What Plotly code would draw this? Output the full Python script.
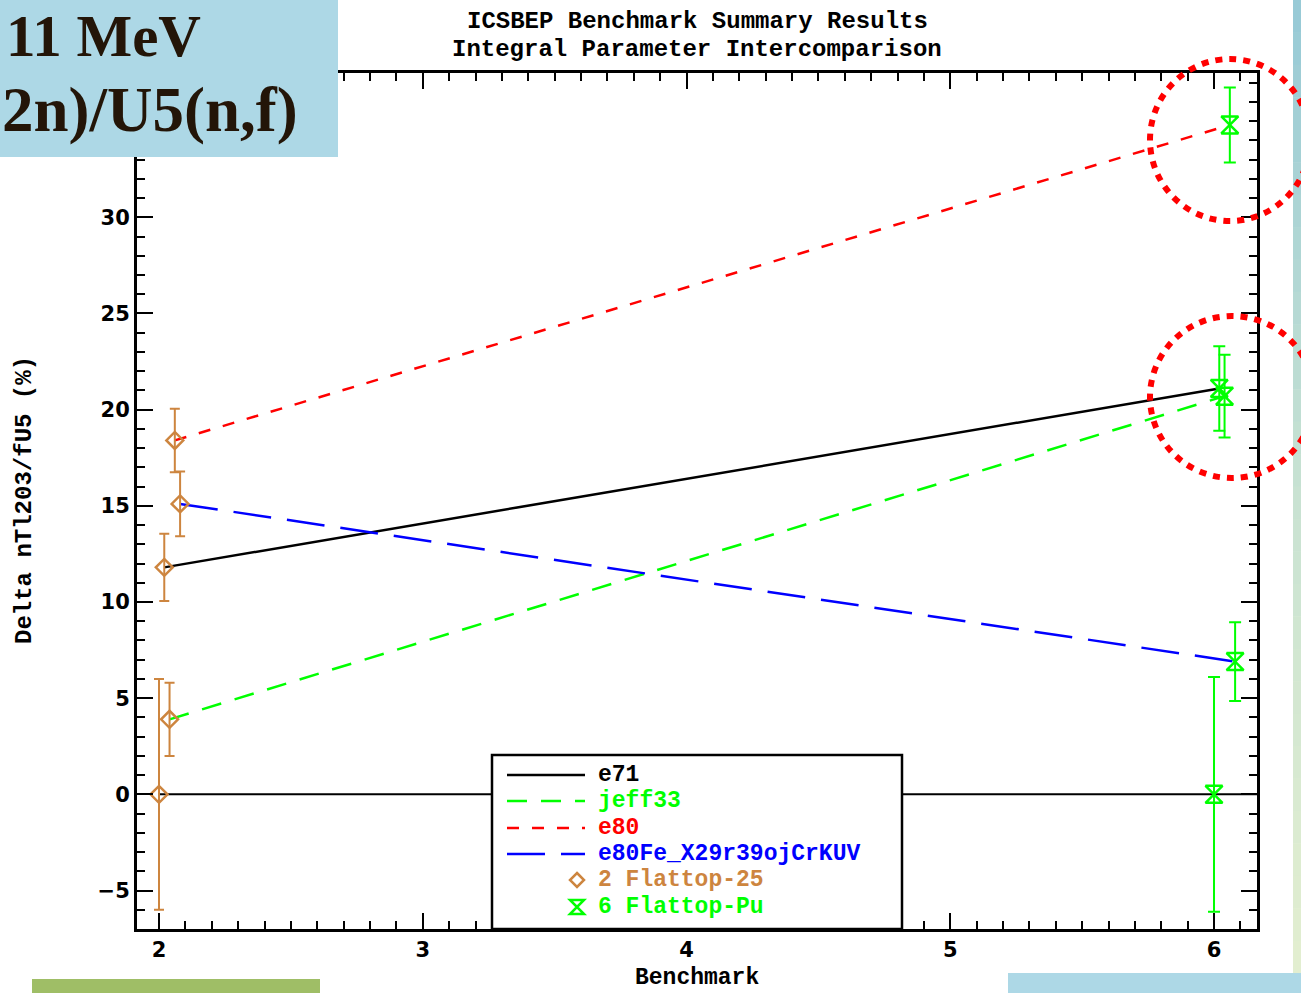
import plotly.graph_objects as go

# ---------------- data ----------------
benchmarks = [2, 6]
benchmark_names = ["2 Flattop-25", "6 Flattop-Pu"]
libraries = ["exp", "e71", "jeff33", "e80", "e80Fe_X29r39ojCrKUV"]
x_offsets = [0.0, 0.02, 0.04, 0.06, 0.08]
delta_flattop25 = [0.0, 11.8, 3.9, 18.4, 15.1]
err_flattop25 = [6.0, 1.75, 1.9, 1.65, 1.68]
delta_flattoppu = [0.0, 21.1, 20.7, 34.8, 6.9]
err_flattoppu = [6.1, 2.2, 2.15, 1.95, 2.05]
x_ticks = [2, 3, 4, 5, 6]
y_ticks = [-5, 0, 5, 10, 15, 20, 25, 30]
y_ticktext = ["\u22125", "0", "5", "10", "15", "20", "25", "30"]
x_range = [1.9166, 6.163]
y_range = [-7.0, 37.5]

lib_colors = ["black", "black", "#00FF00", "#FF0000", "#0000FF"]
lib_dash = ["solid", "solid", "20px,14px", "12px,13px", "38px,16px"]
bench_colors = ["#CD853F", "#00FF00"]
bench_symbols = ["diamond-open", "hourglass-open"]

# ---------------- geometry helpers (pixel -> paper) ----------------
L, R, T, B = 137, 1257, 73, 929
W, H = R - L, B - T


def px(x):
    return (x - L) / W


def py(y):
    return (B - y) / H


MONO = "Liberation Mono"
fig = go.Figure()

# reference (zero) line
fig.add_trace(go.Scatter(x=[benchmarks[0], x_range[1]], y=[delta_flattop25[0], delta_flattoppu[0]],
                         mode="lines", line=dict(color="black", width=2), showlegend=False,
                         hoverinfo="skip"))

# library lines
for i in range(1, len(libraries)):
    fig.add_trace(go.Scatter(
        x=[benchmarks[0] + x_offsets[i], benchmarks[1] + x_offsets[i]],
        y=[delta_flattop25[i], delta_flattoppu[i]],
        mode="lines", name=libraries[i],
        line=dict(color=lib_colors[i], width=2.5, dash=lib_dash[i]),
        showlegend=False))

# benchmark markers with error bars
for b, (vals, errs) in enumerate([(delta_flattop25, err_flattop25), (delta_flattoppu, err_flattoppu)]):
    fig.add_trace(go.Scatter(
        x=[benchmarks[b] + o for o in x_offsets], y=vals,
        mode="markers", name=benchmark_names[b],
        marker=dict(symbol=bench_symbols[b], size=13 if b == 0 else 17, color=bench_colors[b],
                    line=dict(width=2.5, color=bench_colors[b])),
        error_y=dict(type="data", array=errs, visible=True, color=bench_colors[b],
                     thickness=2, width=5 if b == 0 else 6),
        showlegend=False))

axis_common = dict(showline=True, linecolor="black", linewidth=3, mirror="ticks",
                   ticks="inside", tickcolor="black", tickwidth=2, ticklen=16,
                   showgrid=False, zeroline=False,
                   tickfont=dict(family="DejaVu Sans", size=21, color="black", weight="bold"))

fig.update_xaxes(range=x_range, tickmode="array", tickvals=x_ticks,
                 ticktext=[str(v) for v in x_ticks],
                 minor=dict(ticks="inside", tickmode="linear", tick0=2, dtick=0.1, ticklen=8,
                            tickwidth=1.5, tickcolor="black"),
                 **axis_common)
fig.update_yaxes(range=y_range, tickmode="array", tickvals=y_ticks,
                 ticktext=y_ticktext,
                 minor=dict(ticks="inside", tickmode="linear", tick0=0, dtick=1, ticklen=8,
                            tickwidth=1.5, tickcolor="black"),
                 **axis_common)

shapes = []
annotations = []

# legend box
shapes.append(dict(type="rect", xref="paper", yref="paper", x0=px(492), x1=px(902), y0=py(755), y1=py(929),
                   fillcolor="white", line=dict(color="black", width=2.5), layer="above"))
row_y = [775, 801, 828, 854, 880, 907]
legend_labels = ["e71", "jeff33", "e80", "e80Fe_X29r39ojCrKUV"] + benchmark_names
legend_colors = ["black", "#00FF00", "#FF0000", "#0000FF"] + bench_colors
for k in range(4):
    shapes.append(dict(type="line", xref="paper", yref="paper", x0=px(507), x1=px(585),
                       y0=py(row_y[k]), y1=py(row_y[k]), layer="above",
                       line=dict(color=lib_colors[k + 1], width=2.5, dash=lib_dash[k + 1])))
# legend markers (diamond, hourglass)
cx, cy = 577, row_y[4]
d = 7
shapes.append(dict(type="path", xref="paper", yref="paper", layer="above",
                   path=f"M {px(cx)},{py(cy - d)} L {px(cx + d)},{py(cy)} L {px(cx)},{py(cy + d)} L {px(cx - d)},{py(cy)} Z",
                   line=dict(color=bench_colors[0], width=2.5)))
cx, cy = 577, row_y[5]
shapes.append(dict(type="path", xref="paper", yref="paper", layer="above",
                   path=f"M {px(cx - d)},{py(cy - d)} L {px(cx + d)},{py(cy - d)} L {px(cx - d)},{py(cy + d)} L {px(cx + d)},{py(cy + d)} Z",
                   line=dict(color=bench_colors[1], width=2.5)))
for k, lab in enumerate(legend_labels):
    annotations.append(dict(text=lab, xref="paper", yref="paper", x=px(596), y=py(row_y[k]),
                            xanchor="left", yanchor="middle", showarrow=False,
                            font=dict(family=MONO, size=23, color=legend_colors[k], weight="bold")))

# titles
annotations.append(dict(text="ICSBEP Benchmark Summary Results", xref="paper", yref="paper",
                        x=px(697), y=py(22), xanchor="center", yanchor="middle", showarrow=False,
                        font=dict(family=MONO, size=24, color="black", weight="bold")))
annotations.append(dict(text="Integral Parameter Intercomparison", xref="paper", yref="paper",
                        x=px(697), y=py(49), xanchor="center", yanchor="middle", showarrow=False,
                        font=dict(family=MONO, size=24, color="black", weight="bold")))
annotations.append(dict(text="Benchmark", xref="paper", yref="paper",
                        x=px(697), y=py(978), xanchor="center", yanchor="middle", showarrow=False,
                        font=dict(family=MONO, size=23, color="black", weight="bold")))
annotations.append(dict(text="Delta nTl203/fU5 (%)", xref="paper", yref="paper", textangle=-90,
                        x=px(24), y=py(500), xanchor="center", yanchor="middle", showarrow=False,
                        font=dict(family=MONO, size=24, color="black", weight="bold")))

# slide decorations: blue title box
shapes.append(dict(type="rect", xref="paper", yref="paper", x0=px(-5), x1=px(338), y0=py(157), y1=py(-5),
                   fillcolor="#ADD8E6", line=dict(width=0), layer="above"))
annotations.append(dict(text="11 MeV", xref="paper", yref="paper", x=px(4), y=py(36),
                        xanchor="left", yanchor="middle", showarrow=False,
                        font=dict(family="Liberation Serif", size=59, color="#231508", weight="bold")))
annotations.append(dict(text="2n)/U5(n,f)", xref="paper", yref="paper", x=px(0), y=py(110),
                        xanchor="left", yanchor="middle", showarrow=False,
                        font=dict(family="Liberation Serif", size=63, color="#231508", weight="bold")))

# right gradient strip
top_c = (152, 202, 214)
mid_c = (200, 226, 210)
bot_c = (226, 238, 208)
nseg = 30
for s in range(nseg):
    t = s / (nseg - 1)
    if t < 0.5:
        a, b2, u = top_c, mid_c, t / 0.5
    else:
        a, b2, u = mid_c, bot_c, (t - 0.5) / 0.5
    col = "rgb(%d,%d,%d)" % tuple(int(round(a[j] + (b2[j] - a[j]) * u)) for j in range(3))
    y0 = 973 * s / nseg
    y1 = 973 * (s + 1) / nseg + 0.5
    shapes.append(dict(type="rect", xref="paper", yref="paper", x0=px(1293), x1=px(1305),
                       y0=py(y1), y1=py(y0), fillcolor=col, line=dict(width=0), layer="above"))

# bottom bars
shapes.append(dict(type="rect", xref="paper", yref="paper", x0=px(32), x1=px(320), y0=py(1000), y1=py(979),
                   fillcolor="#9FBE66", line=dict(width=0), layer="above"))
shapes.append(dict(type="rect", xref="paper", yref="paper", x0=px(1008), x1=px(1305), y0=py(1000), y1=py(973),
                   fillcolor="#ADD8E6", line=dict(width=0), layer="above"))

# red dotted circles
shapes.append(dict(type="circle", xref="paper", yref="paper", x0=px(1150), x1=px(1310), y0=py(221), y1=py(59),
                   line=dict(color="#FF0000", width=6, dash="7px,7px"), layer="above"))
shapes.append(dict(type="circle", xref="paper", yref="paper", x0=px(1150), x1=px(1314), y0=py(478), y1=py(316),
                   line=dict(color="#FF0000", width=6, dash="7px,7px"), layer="above"))

fig.update_layout(width=1301, height=993, margin=dict(l=L, r=1301 - R, t=T, b=993 - B),
                  paper_bgcolor="white", plot_bgcolor="white", showlegend=False,
                  shapes=shapes, annotations=annotations)

fig.write_html("out.html")
